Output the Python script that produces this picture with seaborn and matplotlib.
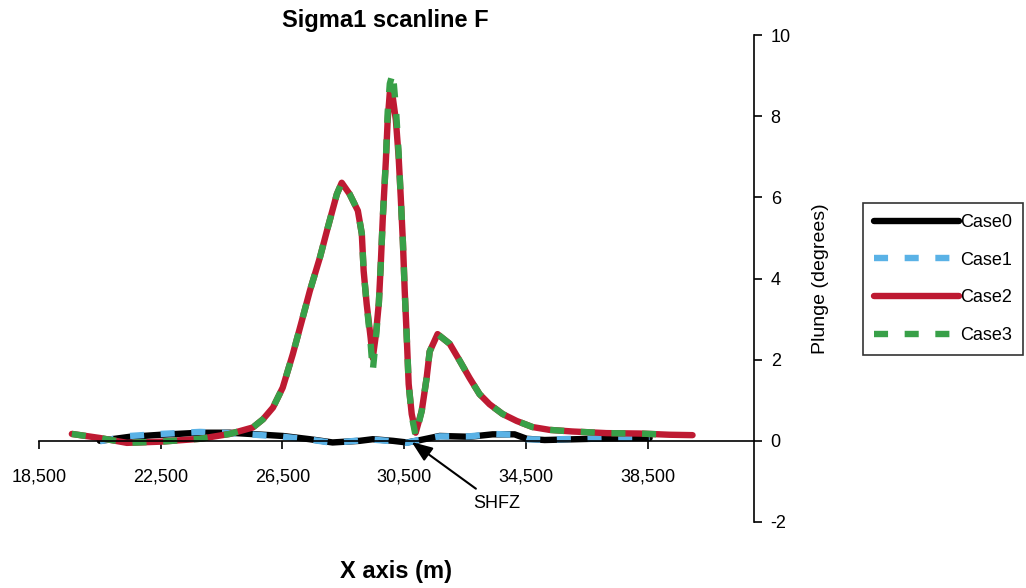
import matplotlib
matplotlib.use("Agg")
from matplotlib import pyplot as plt
import pandas as pd
import seaborn as sns

# data
x_case0 = [20500, 21490, 22510, 23790, 24770, 25430, 26510, 27400, 28150, 29040,
           29470, 30130, 30590, 30910, 31670, 32650, 33410, 34130, 34530, 35120,
           36170, 37150, 38570]
y_case0 = [0.00, 0.10, 0.15, 0.20, 0.20, 0.17, 0.12, 0.04, -0.04, 0.00,
           0.04, 0.00, -0.04, 0.00, 0.12, 0.10, 0.16, 0.16, 0.05, 0.02,
           0.04, 0.06, 0.07]
x_case1 = x_case0
y_case1 = [-0.01, 0.12, 0.17, 0.22, 0.19, 0.16, 0.10, 0.03, -0.05, 0.01,
           0.03, -0.01, -0.05, 0.01, 0.11, 0.11, 0.17, 0.15, 0.04, 0.03,
           0.05, 0.07, 0.08]

x_case2 = [19580, 20500, 21390, 22510, 23790, 24770, 25530, 25860, 26190, 26510,
           26840, 27140, 27400, 27730, 27990, 28290, 28450, 28710, 28980, 29110,
           29170, 29270, 29400, 29470, 29570, 29670, 29730, 29800, 29900, 29960,
           30030, 30130, 30230, 30320, 30390, 30460, 30520, 30590, 30650, 30750,
           30880, 31080, 31240, 31340, 31600, 32000, 32330, 32650, 32980, 33310,
           33740, 34200, 34720, 35280, 36040, 37150, 38240, 39220, 39980]
y_case2 = [0.17, 0.07, -0.05, -0.02, 0.05, 0.17, 0.33, 0.53, 0.82, 1.31,
           2.13, 2.96, 3.69, 4.51, 5.25, 6.08, 6.36, 6.08, 5.67, 5.10,
           4.19, 3.37, 2.54, 2.04, 2.60, 3.40, 4.30, 5.50, 6.90, 7.90,
           8.58, 8.45, 7.90, 7.00, 6.00, 4.90, 3.70, 2.50, 1.40, 0.66,
           0.20, 0.74, 1.55, 2.20, 2.63, 2.39, 1.97, 1.55, 1.15, 0.90,
           0.66, 0.49, 0.34, 0.27, 0.23, 0.19, 0.18, 0.15, 0.14]
x_case3 = x_case2[:-1]
y_case3 = [0.17, 0.07, -0.05, -0.02, 0.05, 0.17, 0.33, 0.53, 0.82, 1.31,
           2.13, 2.96, 3.69, 4.51, 5.25, 6.08, 6.36, 6.08, 5.67, 5.10,
           4.19, 3.37, 2.40, 1.72, 2.50, 3.40, 4.30, 5.50, 6.90, 8.10,
           8.80, 9.07, 8.20, 7.10, 6.00, 4.90, 3.70, 2.50, 1.40, 0.62,
           0.12, 0.74, 1.55, 2.20, 2.63, 2.39, 1.97, 1.55, 1.15, 0.90,
           0.66, 0.49, 0.34, 0.27, 0.23, 0.19, 0.18, 0.15]

cases = ["Case0", "Case1", "Case2", "Case3"]
colors = ["#000000", "#5AB2E6", "#BE1A32", "#38A048"]
x_ticks = [18500, 22500, 26500, 30500, 34500, 38500]
x_tick_labels = ["18,500", "22,500", "26,500", "30,500", "34,500", "38,500"]
y_ticks = [-2, 0, 2, 4, 6, 8, 10]

frames = []
for name, xs, ys in zip(cases, [x_case0, x_case1, x_case2, x_case3],
                        [y_case0, y_case1, y_case2, y_case3]):
    frames.append(pd.DataFrame({"x": xs, "y": ys, "case": name}))
df = pd.concat(frames, ignore_index=True)

sns.set_style("white", {"text.color": "black", "axes.labelcolor": "black",
                        "xtick.color": "black", "ytick.color": "black"})
plt.rcParams["font.family"] = ["Liberation Sans", "DejaVu Sans"]
plt.rcParams["axes.unicode_minus"] = False

fig = plt.figure(figsize=(10.26, 5.88), dpi=100)
ax = fig.add_axes([39 / 1026, 1 - 522 / 588, 715 / 1026, 487 / 588])

sns.lineplot(
    data=df, x="x", y="y", hue="case", style="case",
    hue_order=cases, style_order=cases,
    palette=dict(zip(cases, colors)),
    dashes={"Case0": "", "Case1": (2.2, 2.6), "Case2": "", "Case3": (2.2, 2.6)},
    estimator=None, linewidth=4.6, legend=False, ax=ax
)

ax.set_xlim(18500, 42000)
ax.set_ylim(-2, 10)

# axes look: x axis through zero, y axis on the right
ax.spines["bottom"].set_position(("data", 0))
ax.spines["left"].set_visible(False)
ax.spines["top"].set_visible(False)
for s in ["bottom", "right"]:
    ax.spines[s].set_color("black")
    ax.spines[s].set_linewidth(1.2)

ax.set_xticks(x_ticks)
ax.set_xticklabels(x_tick_labels)
ax.set_yticks(y_ticks)
ax.tick_params(axis="x", direction="out", length=6, width=1.2, pad=14,
               labelsize=13, bottom=True, colors="black")
ax.tick_params(axis="y", left=False, labelleft=False, right=True,
               labelright=True, direction="out", length=6, width=1.2,
               pad=6, labelsize=13, colors="black")

ax.set_title("Sigma1 scanline F", fontsize=17, fontweight="bold",
             x=0.484, pad=6, color="black")
ax.set_xlabel("X axis (m)", fontsize=17, fontweight="bold", color="black")
ax.xaxis.set_label_coords(0.5, -0.078)
ax.set_ylabel("Plunge (degrees)", fontsize=14, color="black")
ax.yaxis.set_label_position("right")
ax.yaxis.set_label_coords(1.081, 0.5)

ax.annotate("SHFZ", xy=(30750, -0.03), xytext=(33540, -1.55),
            fontsize=13, ha="center", va="center", color="black",
            arrowprops=dict(arrowstyle="-|>,head_length=0.9,head_width=0.35",
                            color="black", lw=1.5, mutation_scale=14,
                            shrinkA=4, shrinkB=0))

handles = ax.get_lines()[:4]
leg = ax.legend(handles, cases, loc="upper left",
                bbox_to_anchor=(863 / 1026, 1 - 203 / 588),
                bbox_transform=fig.transFigure, fontsize=13,
                handlelength=4.7, handletextpad=0.1, labelspacing=1.15,
                borderpad=0.6, borderaxespad=0, fancybox=False,
                frameon=True, edgecolor="black")
leg.get_frame().set_linewidth(1.2)
for t in leg.get_texts():
    t.set_color("black")

fig.savefig("out.png", dpi=100)
